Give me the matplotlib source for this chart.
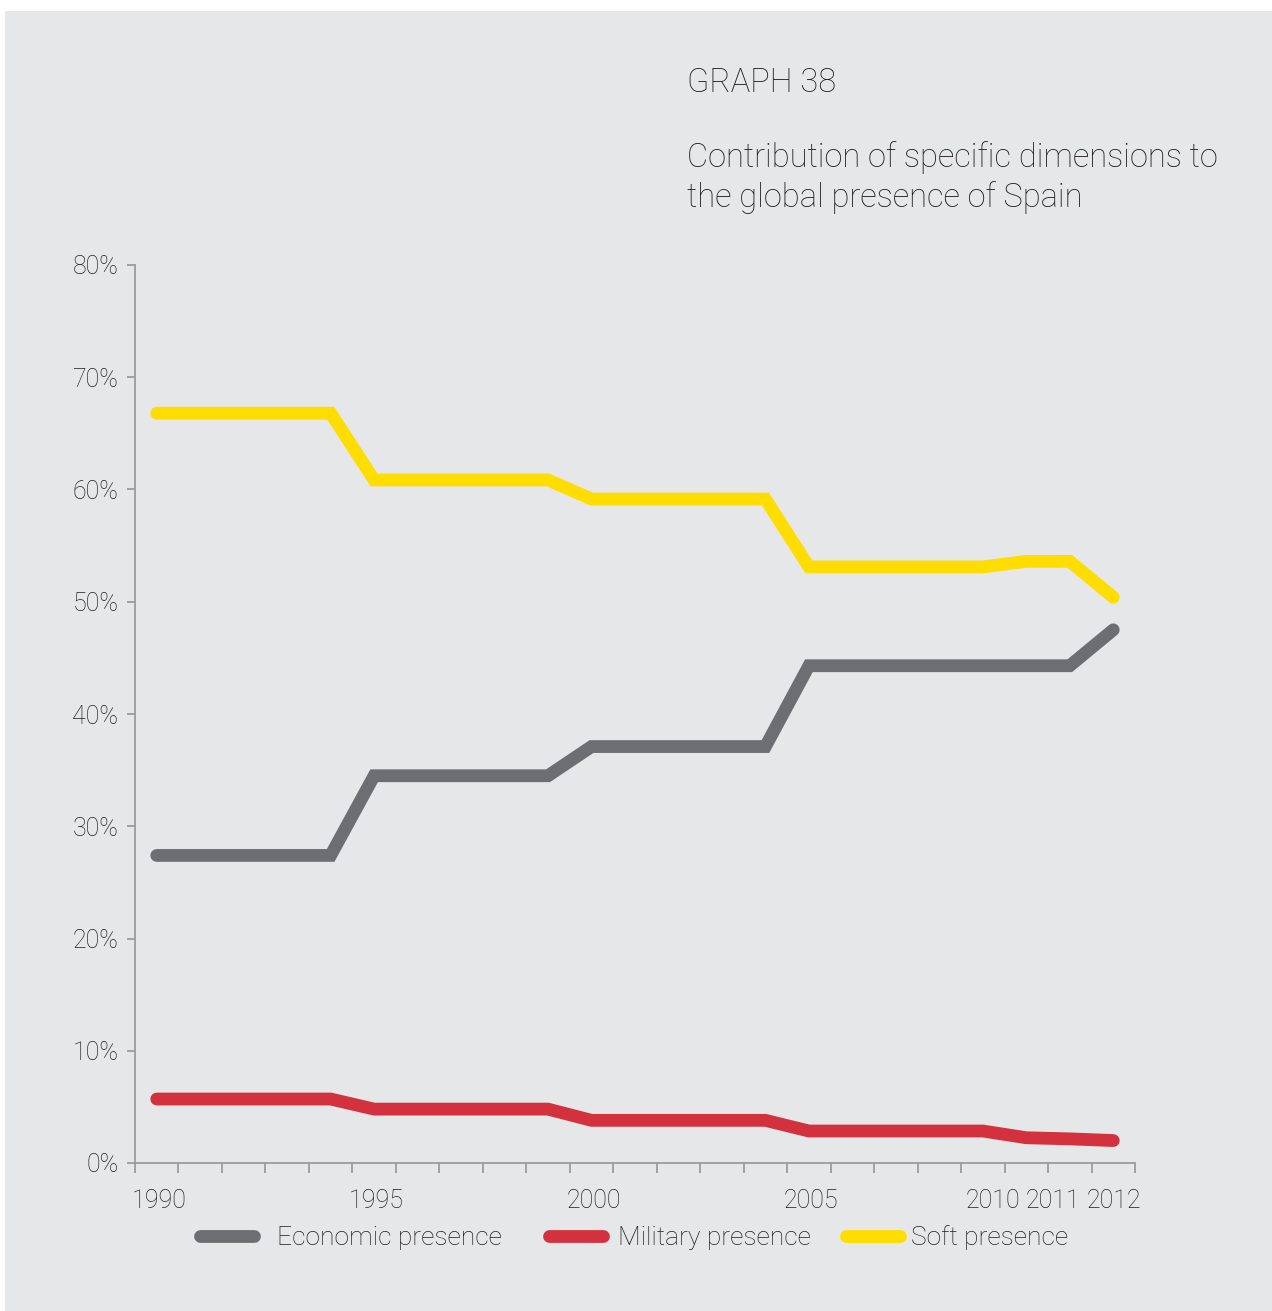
import matplotlib
matplotlib.use("Agg")
import matplotlib.pyplot as plt
from matplotlib.patches import Rectangle
from matplotlib.lines import Line2D
import matplotlib.transforms as mtransforms
import numpy as np

plt.rcParams['font.family'] = ['Roboto', 'DejaVu Sans']

years = [str(y) for y in range(1990, 2011)] + ['2011', '2012']
economic = [27.4] * 5 + [34.5] * 5 + [37.1] * 5 + [44.3] * 5 + [44.3, 44.3, 47.5]
military = [5.7] * 5 + [4.8] * 5 + [3.8] * 5 + [2.85] * 5 + [2.25, 2.15, 2.0]
soft = [66.8] * 5 + [60.85] * 5 + [59.15] * 5 + [53.1] * 5 + [53.6, 53.6, 50.4]
labelled_years = ['1990', '1995', '2000', '2005', '2010', '2011', '2012']
y_ticks = [0, 10, 20, 30, 40, 50, 60, 70, 80]
series_names = ['Economic presence', 'Military presence', 'Soft presence']

BG = '#E6E7E8'
TXT = '#231F20'
AX = '#9A9B9D'
C_ECO = '#6D6E71'
C_MIL = '#D2313D'
C_SOFT = '#FFDD00'
W, H = 1272, 1311

fig = plt.figure(figsize=(W / 100, H / 100), dpi=100, facecolor='white')
fig.patches.append(Rectangle((5 / W, 0), 1, 1 - 11 / H, transform=fig.transFigure,
                             facecolor=BG, edgecolor='none', zorder=-10))

ax = fig.add_axes([135 / W, 1 - 1163 / H, 1000 / W, (1163 - 265) / H])
ax.set_facecolor('none')

x = np.arange(len(years))
lw = 9.2
for vals, col in [(soft, C_SOFT), (economic, C_ECO), (military, C_MIL)]:
    ax.plot(x, vals, color=col, lw=lw, solid_capstyle='round', solid_joinstyle='miter', zorder=3)

ax.set_xlim(-0.5, len(years) - 0.5)
ax.set_ylim(0, 80)

for s in ['top', 'right']:
    ax.spines[s].set_visible(False)
for s in ['left', 'bottom']:
    ax.spines[s].set_color(AX)
    ax.spines[s].set_linewidth(1.3)

TICK_FS = 18
ax.set_yticks(y_ticks)
ax.set_yticklabels([f'{v}%' for v in y_ticks])
ax.tick_params(axis='y', length=6, width=1.3, color=AX, pad=6, labelsize=TICK_FS, labelcolor=TXT)

# boundary ticks between categories, labels centred on selected years
ax.set_xticks(np.arange(-0.5, len(years)), minor=True)
ax.set_xticks([years.index(y) for y in labelled_years])
ax.set_xticklabels(labelled_years)
ax.tick_params(axis='x', which='minor', length=7, width=1.3, color=AX)
ax.tick_params(axis='x', which='major', length=0, pad=19, labelsize=TICK_FS, labelcolor=TXT)
for lab in ax.get_yticklabels() + ax.get_xticklabels():
    lab.set_fontweight('light')

shifts = {'2010': -33, '2011': -17, '2012': 1}
for lab in ax.get_xticklabels():
    dx = shifts.get(lab.get_text(), 2)
    lab.set_transform(lab.get_transform() + mtransforms.Affine2D().translate(dx, 0))

TITLE_FS = 23.5
fig.text(687 / W, 1 - 92 / H, 'GRAPH 38', fontsize=TITLE_FS, fontweight='light', color=TXT,
         ha='left', va='baseline')
fig.text(687 / W, 1 - 167 / H, 'Contribution of specific dimensions to',
         fontsize=TITLE_FS, fontweight='light', color=TXT, ha='left', va='baseline')
fig.text(687 / W, 1 - 207 / H, 'the global presence of Spain',
         fontsize=TITLE_FS, fontweight='light', color=TXT, ha='left', va='baseline')

# one legend entry per series, placed side by side below the axis
colors = [C_ECO, C_MIL, C_SOFT]
starts = [200, 549, 846]
pads = [0.85, 0.55, 0.4]
for name, col, x0, pad in zip(series_names, colors, starts, pads):
    h = Line2D([], [], color=col, lw=lw, solid_capstyle='round')
    leg = fig.legend([h], [name], loc='center left', bbox_to_anchor=(x0 / W, 1 - 1238 / H),
                     frameon=False, borderpad=0, borderaxespad=0, handlelength=2.05,
                     handletextpad=pad, prop={'size': 19, 'weight': 'light'})
    for t in leg.get_texts():
        t.set_color(TXT)

fig.savefig('out.png', dpi=100, facecolor='white')
